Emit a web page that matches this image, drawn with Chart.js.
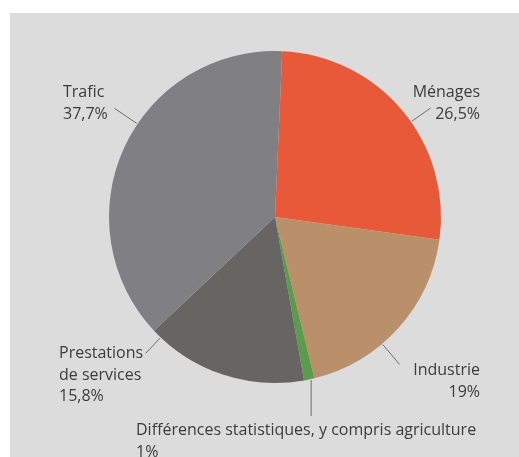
<!DOCTYPE html>
<html>
<head>
<meta charset="utf-8">
<script src="https://cdn.jsdelivr.net/npm/chart.js@4"></script>
<style>
  html, body { margin: 0; padding: 0; background: #fff; }
  #wrap { width: 519px; height: 457px; position: relative; }
</style>
</head>
<body>
<div id="wrap"><canvas id="pie-chart"></canvas></div>
<script>
// données
const categories = ['Ménages', 'Industrie', 'Différences statistiques, y compris agriculture', 'Prestations de services', 'Trafic'];
const shares = [26.5, 19, 1, 15.8, 37.7];
const shareLabels = ['26,5%', '19%', '1%', '15,8%', '37,7%'];
const labelLines = [['Ménages'], ['Industrie'], ['Différences statistiques, y compris agriculture'], ['Prestations', 'de services'], ['Trafic']];

const sliceColors = ['#e8593a', '#b99069', '#5b9b4c', '#676563', '#808082'];

// placement des étiquettes (angle du trait, longueur, position du texte / centre)
const labelLayout = [
  { angle: -35, len: 24, tx: 205, ty: -120, align: 'right' },
  { angle: 49.8, len: 27, tx: 205, ty: 158, align: 'right' },
  { angle: 77.5, len: 36, tx: -139, ty: 218, align: 'left', vertical: true },
  { angle: 133.5, len: 22, tx: -216, ty: 141, align: 'left' },
  { angle: 214.1, len: 28, tx: -212, ty: -120, align: 'left' }
];

const panelBg = {
  id: 'panelBg',
  beforeDraw(chart) {
    const ctx = chart.ctx;
    ctx.save();
    ctx.fillStyle = '#dcdcdc';
    ctx.fillRect(10, 13, chart.width - 10, chart.height - 13);
    ctx.restore();
  }
};

const sliceLabels = {
  id: 'sliceLabels',
  afterDatasetsDraw(chart) {
    const ctx = chart.ctx;
    const meta = chart.getDatasetMeta(0);
    ctx.save();
    ctx.font = '16px "Open Sans"';
    ctx.textBaseline = 'alphabetic';
    meta.data.forEach((arc, i) => {
      const lay = labelLayout[i];
      const cx = arc.x, cy = arc.y, r = arc.outerRadius;
      const a = lay.angle * Math.PI / 180;
      const x0 = cx + Math.cos(a) * (r + 1);
      const y0 = cy + Math.sin(a) * (r + 1);
      let x1, y1;
      if (lay.vertical) {
        x1 = x0; y1 = y0 + lay.len;
      } else {
        x1 = cx + Math.cos(a) * (r + lay.len);
        y1 = cy + Math.sin(a) * (r + lay.len);
      }
      ctx.strokeStyle = '#6e6e6e';
      ctx.lineWidth = 1;
      ctx.beginPath();
      ctx.moveTo(x0, y0);
      ctx.lineTo(x1, y1);
      ctx.stroke();

      const lines = labelLines[i].concat([shareLabels[i]]);
      ctx.fillStyle = '#3c3c3c';
      ctx.textAlign = lay.align;
      lines.forEach((t, k) => {
        ctx.fillText(t, cx + lay.tx, cy + lay.ty + k * 21.5);
      });
    });
    ctx.restore();
  }
};

new Chart(document.getElementById('pie-chart'), {
  type: 'pie',
  data: {
    labels: categories,
    datasets: [{
      data: shares,
      backgroundColor: sliceColors,
      borderWidth: 0
    }]
  },
  options: {
    responsive: true,
    maintainAspectRatio: false,
    animation: false,
    rotation: 2.5,
    layout: { padding: { left: 109, right: 78, top: 51, bottom: 74 } },
    plugins: {
      legend: { display: false },
      tooltip: { enabled: false }
    }
  },
  plugins: [panelBg, sliceLabels]
});
</script>
</body>
</html>
